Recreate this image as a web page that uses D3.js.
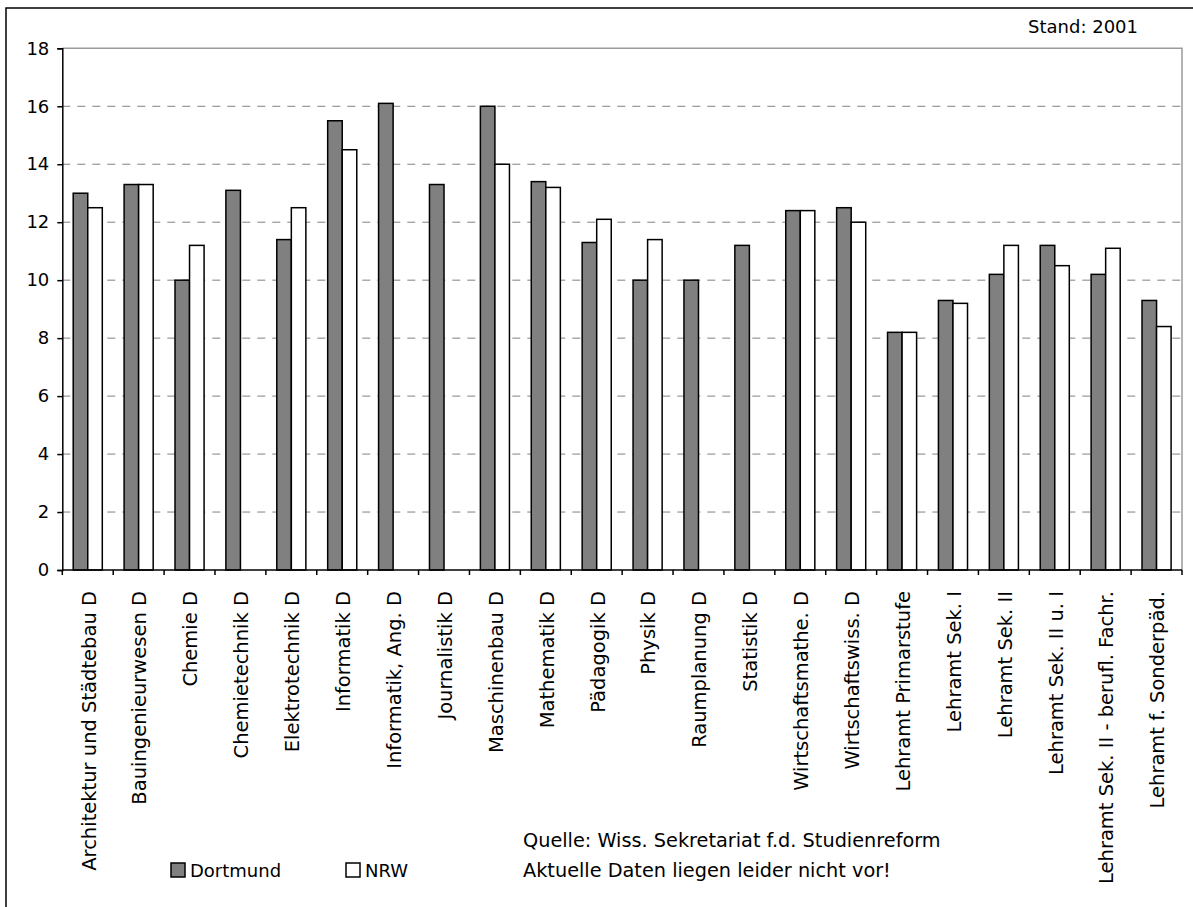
<!DOCTYPE html>
<html>
<head>
<meta charset="utf-8">
<script src="https://cdn.jsdelivr.net/npm/d3@7"></script>
<style>
  html, body { margin: 0; padding: 0; background: #fff; }
  svg { display: block; }
  text { font-family: "DejaVu Sans", Verdana, sans-serif; fill: #000; }
</style>
</head>
<body>
<svg id="chart" width="1193" height="907"></svg>
<script>
const categories = [
  "Architektur und Städtebau D", "Bauingenieurwesen D", "Chemie D", "Chemietechnik D",
  "Elektrotechnik D", "Informatik D", "Informatik, Ang. D", "Journalistik D",
  "Maschinenbau D", "Mathematik D", "Pädagogik D", "Physik D", "Raumplanung D",
  "Statistik D", "Wirtschaftsmathe. D", "Wirtschaftswiss. D", "Lehramt Primarstufe",
  "Lehramt Sek. I", "Lehramt Sek. II", "Lehramt Sek. II u. I",
  "Lehramt Sek. II - berufl. Fachr.", "Lehramt f. Sonderpäd."
];
const seriesNames = ["Dortmund", "NRW"];
const dortmund = [13.0, 13.3, 10.0, 13.1, 11.4, 15.5, 16.1, 13.3, 16.0, 13.4, 11.3, 10.0, 10.0, 11.2, 12.4, 12.5, 8.2, 9.3, 10.2, 11.2, 10.2, 9.3];
const nrw      = [12.5, 13.3, 11.2, null, 12.5, 14.5, null, null, 14.0, 13.2, 12.1, 11.4, null, null, 12.4, 12.0, 8.2, 9.2, 11.2, 10.5, 11.1, 8.4];
const yTicks = [0, 2, 4, 6, 8, 10, 12, 14, 16, 18];
const sourceLines = ["Quelle: Wiss. Sekretariat f.d. Studienreform", "Aktuelle Daten liegen leider nicht vor!"];
const standText = "Stand: 2001";

const colors = { Dortmund: "#808080", NRW: "#ffffff" };
const svg = d3.select("#chart");

// outer frame
svg.append("rect").attr("x", 6).attr("y", 8).attr("width", 1300).attr("height", 1000)
  .attr("fill", "#fff").attr("stroke", "#000").attr("stroke-width", 1.5);

const plot = { left: 62.3, right: 1182, top: 48.3, bottom: 570 };

const x = d3.scaleBand().domain(categories).range([plot.left, plot.right]).padding(0);
const xs = d3.scaleBand().domain(seriesNames).range([0, x.bandwidth()]).paddingInner(0).paddingOuter(0.75);
const y = d3.scaleLinear().domain([0, 18]).range([plot.bottom, plot.top]);

// gridlines
svg.append("g").selectAll("line").data(yTicks.filter(t => t > 0 && t < 18)).join("line")
  .attr("x1", plot.left).attr("x2", plot.right)
  .attr("y1", d => y(d)).attr("y2", d => y(d))
  .attr("stroke", "#808080").attr("stroke-width", 1).attr("stroke-dasharray", "8,7");

// plot border top/right
svg.append("path")
  .attr("d", `M${plot.left},${plot.top}H${plot.right}V${plot.bottom}`)
  .attr("fill", "none").attr("stroke", "#9a9a9a").attr("stroke-width", 1.5);

// bars
const rows = categories.map((c, i) => ({ cat: c, values: [
  { s: "Dortmund", v: dortmund[i] }, { s: "NRW", v: nrw[i] } ] }));
svg.append("g").selectAll("g").data(rows).join("g")
  .attr("transform", d => `translate(${x(d.cat)},0)`)
  .selectAll("rect").data(d => d.values.filter(v => v.v != null)).join("rect")
  .attr("x", d => xs(d.s)).attr("width", xs.bandwidth())
  .attr("y", d => y(d.v)).attr("height", d => y(0) - y(d.v))
  .attr("fill", d => colors[d.s]).attr("stroke", "#000").attr("stroke-width", 1.5);

// y axis
const yAxis = d3.axisLeft(y).tickValues(yTicks).tickSize(5).tickPadding(8).tickFormat(d3.format("d"));
const gy = svg.append("g").attr("transform", `translate(${plot.left},0)`).call(yAxis);
gy.select(".domain").attr("stroke", "#000").attr("stroke-width", 1.5);
gy.selectAll(".tick line").attr("stroke", "#000").attr("stroke-width", 1.5);
gy.selectAll(".tick text").attr("font-size", 18).attr("font-family", "DejaVu Sans").attr("fill", "#000");

// x axis: ticks at category boundaries
const gx = svg.append("g").attr("transform", `translate(0,${plot.bottom})`);
gx.append("line").attr("x1", plot.left).attr("x2", plot.right).attr("y1", 0).attr("y2", 0)
  .attr("stroke", "#000").attr("stroke-width", 1.5);
const bounds = categories.map(c => x(c)).concat([plot.right]);
gx.selectAll("line.tk").data(bounds).join("line").attr("class", "tk")
  .attr("x1", d => d).attr("x2", d => d).attr("y1", 0).attr("y2", 5)
  .attr("stroke", "#000").attr("stroke-width", 1.5);
gx.selectAll("text").data(categories).join("text")
  .attr("transform", d => `translate(${x(d) + x.bandwidth() / 2},${21}) rotate(-90)`)
  .attr("text-anchor", "end").attr("dy", "0.4em")
  .attr("font-size", 19.5).text(d => d);

// legend
const legend = svg.append("g");
const legendItems = [{ s: "Dortmund", x: 171 }, { s: "NRW", x: 346 }];
legendItems.forEach(it => {
  legend.append("rect").attr("x", it.x).attr("y", 863).attr("width", 14).attr("height", 14)
    .attr("fill", colors[it.s]).attr("stroke", "#000").attr("stroke-width", 1.5);
  legend.append("text").attr("x", it.x + 19).attr("y", 877).attr("font-size", 18).text(it.s);
});

// source notes
svg.selectAll("text.src").data(sourceLines).join("text").attr("class", "src")
  .attr("x", 523).attr("y", (d, i) => 847 + i * 30).attr("font-size", 19.3).text(d => d);

svg.append("text").attr("x", 1138).attr("y", 33).attr("text-anchor", "end")
  .attr("font-size", 18).text(standText);
</script>
</body>
</html>
